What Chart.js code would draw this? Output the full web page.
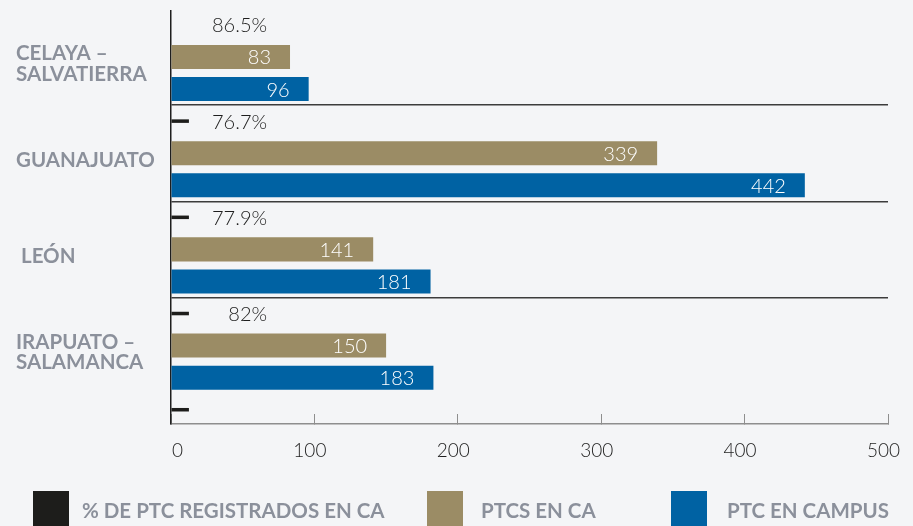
<!DOCTYPE html>
<html>
<head>
<meta charset="utf-8">
<script src="https://cdn.jsdelivr.net/npm/chart.js@4.4.1/dist/chart.umd.min.js"></script>
<style>
  html, body { margin: 0; padding: 0; background: #f4f5f7; overflow: hidden; }
  #wrap { position: relative; width: 913px; height: 526px; }
  #legend { position: absolute; left: 0; top: 491px; width: 913px; height: 35px; overflow: hidden; }
  .item { position: absolute; top: 0; display: flex; align-items: flex-start; }
  .box { width: 36px; height: 38px; }
  .txt { font: bold 20.5px Lato, sans-serif; color: #8b909b; line-height: 38px; white-space: nowrap; }
</style>
</head>
<body>
<div id="wrap">
  <canvas id="chart" width="913" height="526"></canvas>
  <div id="legend"></div>
</div>
<script>
const categories = [['CELAYA –', 'SALVATIERRA'], 'GUANAJUATO', ' LEÓN', ['IRAPUATO –', 'SALAMANCA']];
const seriesNames = ['% DE PTC REGISTRADOS EN CA', 'PTCS EN CA', 'PTC EN CAMPUS'];
const pctValues = [86.5, 76.7, 77.9, 82];
const ptcsEnCa = [83, 339, 141, 150];
const ptcEnCampus = [96, 442, 181, 183];
const xTicks = [0, 100, 200, 300, 400, 500];
// the % series only shows as short black marks, one category below its labels
const pctMarkLength = 12.5;

const valueLabels = {
    id: 'valueLabels',
    afterDatasetsDraw(chart) {
        const { ctx, scales: { x, y } } = chart;
        ctx.save();
        ctx.font = '300 20px Lato';
        ctx.textBaseline = 'middle';
        ctx.textAlign = 'right';

        // numbers inside the gold and blue bars
        ctx.fillStyle = '#ffffff';
        [1, 2].forEach(di => {
            chart.getDatasetMeta(di).data.forEach((bar, i) => {
                ctx.fillText(String(chart.data.datasets[di].data[i].x), bar.x - 19, bar.y + 1);
            });
        });

        // percentages go in the top slot of each category
        const mark = chart.getDatasetMeta(0).data[0];
        const slot = mark.y - y.getPixelForValue(1);
        ctx.fillStyle = '#1e1e1e';
        pctValues.forEach((v, i) => {
            ctx.fillText(v + '%', x.getPixelForValue(67), y.getPixelForValue(i) + slot + 1);
        });
        ctx.restore();
    }
};

const chart = new Chart(document.getElementById('chart'), {
    type: 'bar',
    data: {
        datasets: [
            {
                label: seriesNames[0],
                data: pctValues.map((v, i) => ({ x: pctMarkLength, y: i + 1 })),
                backgroundColor: '#1d1d1b',
                barPercentage: 0.11
            },
            {
                label: seriesNames[1],
                data: ptcsEnCa.map((v, i) => ({ x: v, y: i })),
                backgroundColor: '#9b8c65',
                barPercentage: 0.75
            },
            {
                label: seriesNames[2],
                data: ptcEnCampus.map((v, i) => ({ x: v, y: i })),
                backgroundColor: '#0062a3',
                barPercentage: 0.75
            }
        ]
    },
    options: {
        indexAxis: 'y',
        responsive: false,
        animation: false,
        categoryPercentage: 1,
        layout: { padding: { left: 16, top: 11, right: 19, bottom: 62 } },
        plugins: {
            legend: { display: false },
            tooltip: { enabled: false }
        },
        scales: {
            x: {
                type: 'linear',
                min: 0,
                max: 500,
                afterBuildTicks: axis => { axis.ticks = xTicks.map(v => ({ value: v })); },
                grid: { drawOnChartArea: false, tickLength: -10, color: '#8e8e8e' },
                border: { color: '#8e8e8e', width: 1.5 },
                ticks: {
                    align: 'end',
                    labelOffset: 12,
                    padding: 25,
                    color: '#1e1e1e',
                    font: { family: 'Lato', size: 19, weight: '300' }
                },
                afterFit: axis => { axis.height = 40; }
            },
            y: {
                type: 'linear',
                offset: false,
                reverse: true,
                min: -0.478,
                max: 3.815,
                bounds: 'data',
                afterBuildTicks: axis => { axis.ticks = categories.map((c, i) => ({ value: i })); },
                ticks: {
                    callback: v => categories[v],
                    crossAlign: 'far',
                    labelOffset: 7,
                    color: '#8b909b',
                    font: { family: 'Lato', size: 20.5, weight: 'bold', lineHeight: 1.0 }
                },
                grid: {
                    offset: true,
                    drawTicks: false,
                    lineWidth: 1.5,
                    color: ctx => (ctx.index >= 1 && ctx.index <= 3 ? '#3c3c3c' : 'rgba(0,0,0,0)')
                },
                border: { color: '#1e1e1e', width: 1.5 },
                afterFit: axis => { axis.width = 155; axis.paddingTop = 0; axis.paddingBottom = 0; }
            }
        }
    },
    plugins: [valueLabels]
});

// legend below the chart, built from the datasets
const legendLeft = [33, 427, 671];
const legendGap = [13, 18, 20];
const legend = document.getElementById('legend');
chart.data.datasets.forEach((ds, i) => {
    const item = document.createElement('div');
    item.className = 'item';
    item.style.left = legendLeft[i] + 'px';
    const box = document.createElement('div');
    box.className = 'box';
    box.style.background = ds.backgroundColor;
    const txt = document.createElement('div');
    txt.className = 'txt';
    txt.style.marginLeft = legendGap[i] + 'px';
    txt.textContent = ds.label;
    item.appendChild(box);
    item.appendChild(txt);
    legend.appendChild(item);
});
</script>
</body>
</html>
